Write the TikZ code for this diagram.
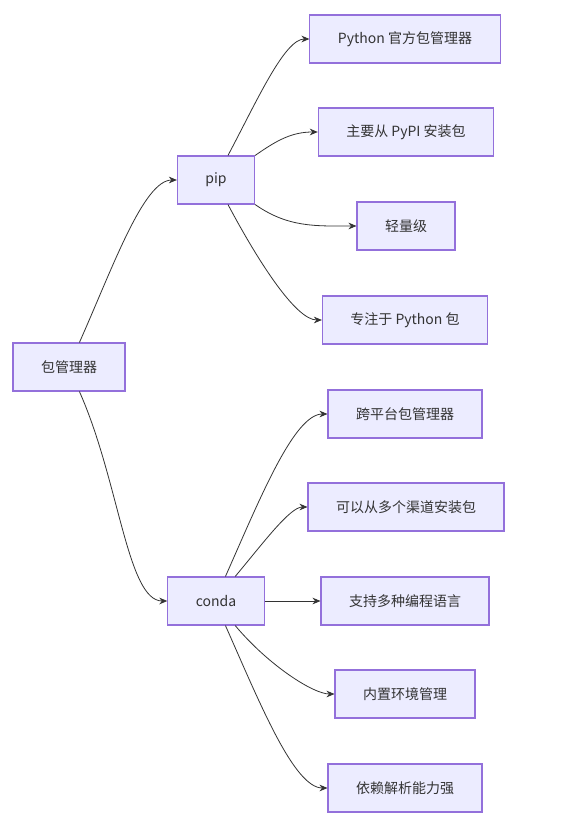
\documentclass[tikz,border=0pt]{standalone}
\usepackage{fontspec}
\setmainfont{Noto Sans CJK SC}
\usepackage{xcolor}
\usetikzlibrary{arrows.meta}

\definecolor{boxfill}{HTML}{ECECFF}
\definecolor{boxline}{HTML}{9370DB}
\definecolor{linkcol}{HTML}{333333}

\tikzset{
    box/.style={draw=boxline, fill=boxfill, line width=0.8pt, minimum height=36pt,
        inner xsep=21pt, font=\fontsize{10.5}{12}\selectfont, text=linkcol},
    link/.style={draw=linkcol, line width=0.6pt, -{Stealth[length=6pt,width=5pt]}},
    curvy/.style={out looseness=1.1, in looseness=0.45}
}

\begin{document}
\begin{tikzpicture}[x=0.75pt, y=-0.75pt]
        \useasboundingbox (0,0) rectangle (579,830);

        \node[box] (root) at (69,367) {包管理器};
        \node[box] (pip) at (216,180) {pip};
        \node[box] (conda) at (216,601) {conda};

        \node[box] (official) at (405,39) {Python 官方包管理器};
        \node[box] (pypi) at (406,132) {主要从 PyPI 安装包};
        \node[box] (light) at (406,226) {轻量级};
        \node[box] (pyonly) at (405,320) {专注于 Python 包};

        \node[box] (cross) at (405,414) {跨平台包管理器};
        \node[box] (channels) at (406,507) {可以从多个渠道安装包};
        \node[box] (langs) at (405,601) {支持多种编程语言};
        \node[box] (envs) at (405,694) {内置环境管理};
        \node[box] (deps) at (405,788) {依赖解析能力强};


        \draw[link] (root.67) to[out=66, in=180, curvy] (pip.west);
        \draw[link] (root.-67) to[out=-66, in=180, curvy] (conda.west);

        \draw[link] (pip.64) to[out=62, in=180, curvy] (official.west);
        \draw[link] (pip.north east) to[out=35, in=180] (pypi.west);
        \draw[link] (pip.south east) to[out=-35, in=180] (light.west);
        \draw[link] (pip.-64) to[out=-62, in=180, curvy] (pyonly.west);

        \draw[link] (conda.69) to[out=66, in=180, curvy] (cross.west);
        \draw[link] (conda.52) to[out=50, in=180, curvy] (channels.west);
        \draw[link] (conda.east) -- (langs.west);
        \draw[link] (conda.-52) to[out=-50, in=180, curvy] (envs.west);
        \draw[link] (conda.-69) to[out=-66, in=180, curvy] (deps.west);
    \end{tikzpicture}
\end{document}
